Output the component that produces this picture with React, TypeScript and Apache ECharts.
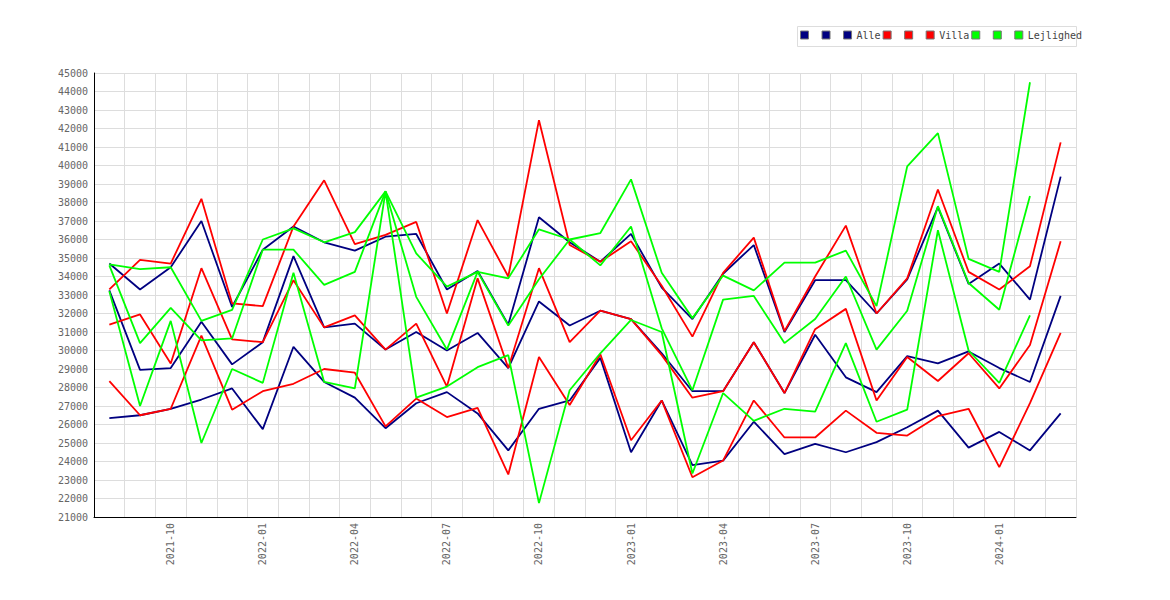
import React, { useEffect, useRef } from "react";
import * as echarts from "echarts";

const months = [
  "2021-08", "2021-09", "2021-10", "2021-11", "2021-12",
  "2022-01", "2022-02", "2022-03", "2022-04", "2022-05", "2022-06",
  "2022-07", "2022-08", "2022-09", "2022-10", "2022-11", "2022-12",
  "2023-01", "2023-02", "2023-03", "2023-04", "2023-05", "2023-06",
  "2023-07", "2023-08", "2023-09", "2023-10", "2023-11", "2023-12",
  "2024-01", "2024-02", "2024-03",
];

const yTicks = { min: 21000, max: 45000, step: 1000 };

const alleHigh = [34700, 33300, 34500, 37000, 32350, 35450, 36700, 35850, 35400, 36150, 36300, 33300, 34300, 31400, 37200, 35850, 34800, 36300, 33400, 31700, 34150, 35700, 31000, 33800, 33800, 32000, 33850, 37750, 33600, 34700, 32750, 39400];
const alleMid = [33250, 28950, 29050, 31550, 29250, 30450, 35100, 31250, 31450, 30050, 31000, 30000, 30950, 29050, 32650, 31350, 32150, 31700, 29850, 27800, 27800, 30450, 27700, 30850, 28550, 27750, 29700, 29300, 29950, 29050, 28300, 32950];
const alleLow = [26350, 26500, 26850, 27350, 27950, 25750, 30200, 28300, 27450, 25800, 27150, 27750, 26600, 24600, 26850, 27300, 29600, 24500, 27300, 23800, 24050, 26150, 24400, 24950, 24500, 25050, 25850, 26750, 24750, 25600, 24600, 26600];

const villaHigh = [33300, 34900, 34700, 38200, 32550, 32400, 36700, 39200, 35750, 36250, 36950, 32000, 37050, 34000, 42450, 35700, 34800, 35900, 33500, 30750, 34200, 36100, 31050, 34000, 36750, 32000, 33900, 38700, 34250, 33300, 34550, 41250];
const villaMid = [31400, 31950, 29300, 34450, 30600, 30450, 33800, 31250, 31900, 30050, 31450, 28050, 33900, 29050, 34450, 30450, 32150, 31700, 29750, 27450, 27800, 30450, 27700, 31150, 32250, 27300, 29650, 28350, 29850, 27950, 30300, 35900];
const villaLow = [28350, 26500, 26850, 30800, 26800, 27800, 28200, 29000, 28800, 25900, 27400, 26400, 26900, 23300, 29650, 27050, 29800, 25150, 27300, 23150, 24050, 27300, 25300, 25300, 26750, 25550, 25400, 26450, 26850, 23700, 27150, 30950];

const lejHigh = [34650, 34400, 34500, 31600, 32200, 36000, 36600, 35850, 36400, 38600, 35250, 33450, 34250, 33900, 36550, 36000, 36350, 39250, 34200, 31750, 34050, 33250, 34750, 34750, 35400, 32400, 39950, 41750, 34950, 34250, 44500, null];
const lejMid = [34600, 30400, 32300, 30550, 30650, 35450, 35450, 33550, 34250, 38600, 32900, 30050, 34250, 31350, 33850, 36000, 34600, 36700, 31200, 27850, 32750, 32950, 30400, 31700, 34000, 30050, 32150, 37800, 33650, 32200, 38350, null];
const lejLow = [33200, 27000, 31600, 25000, 29000, 28250, 34200, 28300, 27950, 38600, 27450, 28050, 29100, 29750, 21750, 27850, 29850, 31650, 31000, 23350, 27700, 26200, 26850, 26700, 30400, 26150, 26800, 36500, 30000, 28250, 31900, null];

const groups = [
  { name: "Alle", color: "#000080", data: [alleHigh, alleMid, alleLow] },
  { name: "Villa", color: "#ff0000", data: [villaHigh, villaMid, villaLow] },
  { name: "Lejlighed", color: "#00ff00", data: [lejHigh, lejMid, lejLow] },
];

const FONT = "DejaVu Sans Mono";

export default function App() {
  const ref = useRef<HTMLDivElement>(null);

  useEffect(() => {
    document.body.style.margin = "0";
    if (!ref.current) return;
    const chart = echarts.init(ref.current, undefined, { renderer: "svg" });

    const series: any[] = [];
    const legendData: any[] = [];
    groups.forEach((g) => {
      const names = [g.name + "__1", g.name + "__2", g.name];
      g.data.forEach((d, k) => {
        series.push({
          name: names[k],
          type: "line",
          data: d,
          showSymbol: false,
          symbol: "none",
          connectNulls: false,
          lineStyle: { color: g.color, width: 1.8 },
          itemStyle: { color: g.color },
        });
        legendData.push(names[k]);
      });
    });

    chart.setOption({
      animation: false,
      textStyle: { fontFamily: FONT },
      graphic: [
        {
          type: "rect",
          shape: { x: 797.5, y: 26.5, width: 279, height: 20 },
          style: { fill: "none", stroke: "#dddddd", lineWidth: 1 },
          silent: true,
        },
      ],
      legend: {
        data: legendData,
        left: 800,
        top: 30,
        icon: "rect",
        itemWidth: 8,
        itemHeight: 8,
        itemGap: 2,
        padding: 0,
        borderWidth: 0,
        itemStyle: { borderColor: "#777777", borderWidth: 1 },
        textStyle: { fontFamily: FONT, fontSize: 10, color: "#444444" },
        formatter: (n: string) => (n.indexOf("__") >= 0 ? " " : n),
      },
      grid: { left: 94, right: 94, top: 73, bottom: 83 },
      xAxis: {
        type: "category",
        data: months,
        boundaryGap: true,
        axisLine: { show: true, lineStyle: { color: "#000000", width: 1 } },
        axisTick: { show: false },
        axisLabel: {
          rotate: 90,
          margin: 6,
          fontFamily: FONT,
          fontSize: 10,
          color: "#666666",
          interval: (i: number, v: string) => ["01", "04", "07", "10"].indexOf(v.slice(5)) >= 0,
        },
        splitLine: { show: true, interval: 0, lineStyle: { color: "#dddddd", width: 1 } },
      },
      yAxis: {
        type: "value",
        min: yTicks.min,
        max: yTicks.max,
        interval: yTicks.step,
        axisLine: { show: true, lineStyle: { color: "#000000", width: 1 } },
        axisTick: { show: false },
        axisLabel: {
          margin: 6,
          fontFamily: FONT,
          fontSize: 10,
          color: "#666666",
          formatter: (v: number) => String(v),
        },
        splitLine: { show: true, lineStyle: { color: "#dddddd", width: 1 } },
      },
      series,
    });

    return () => chart.dispose();
  }, []);

  return <div ref={ref} style={{ width: 1170, height: 600 }} />;
}
